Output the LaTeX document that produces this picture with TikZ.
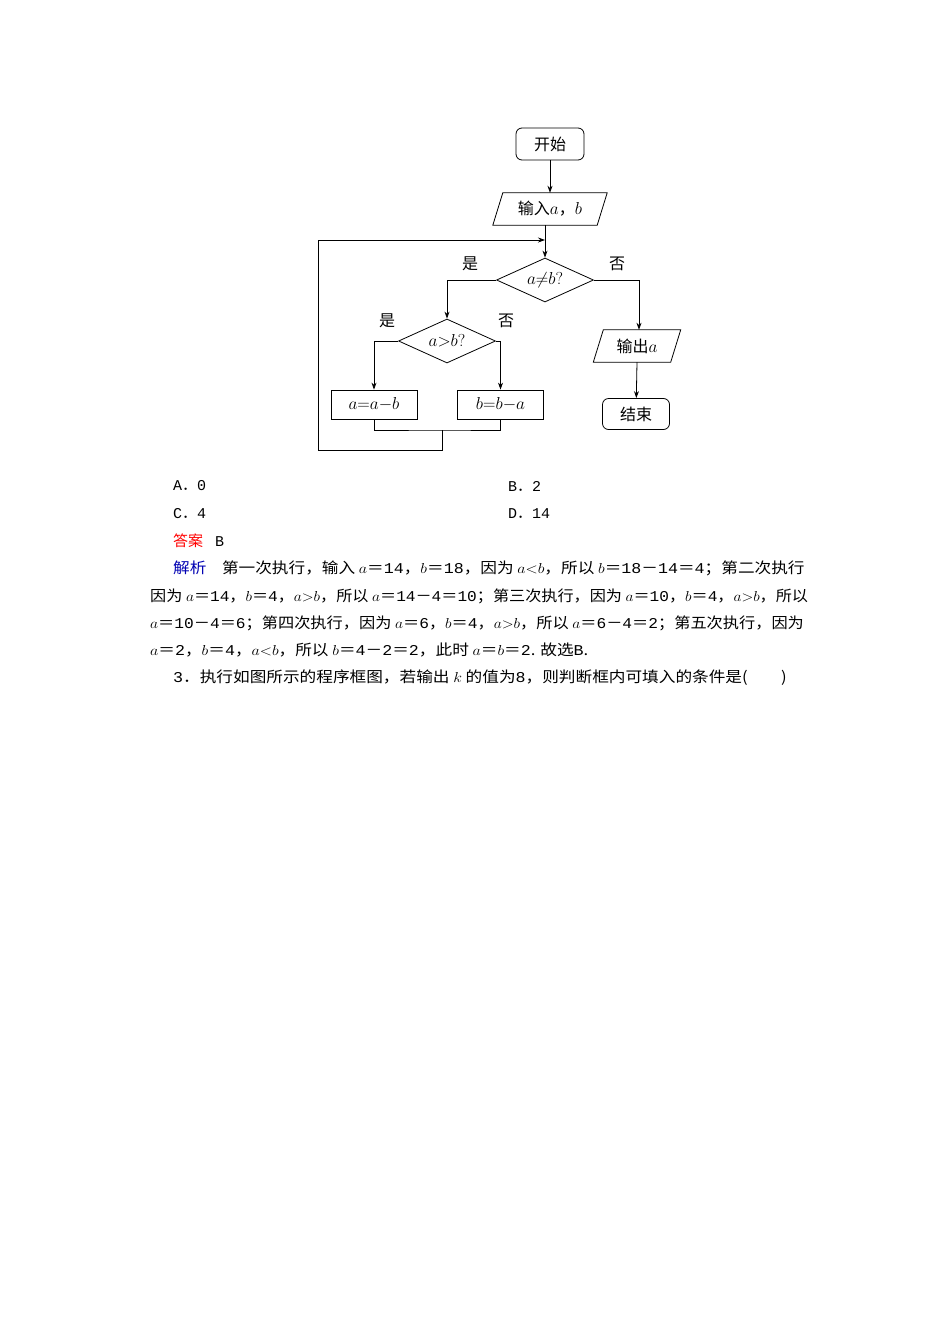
\documentclass[tikz,border=0pt]{standalone}
\usepackage{fontspec}
\newfontfamily\cjk{Noto Sans CJK SC}
\newfontfamily\mono{Liberation Mono}
\setmainfont{Liberation Serif}
\usetikzlibrary{shapes.geometric,arrows.meta}
\newcommand{\nm}[1]{{\mono #1}}
\tikzset{
 every node/.style={font=\cjk\fontsize{16}{18}\selectfont, inner sep=0pt},
 flow/.style={draw, line width=0.8pt},
 term/.style={flow, rounded corners=6pt, minimum width=68pt, minimum height=32pt},
 iobox/.style={minimum height=32pt},
 proc/.style={flow, minimum width=86pt, minimum height=29pt},
 dec/.style={flow, diamond, aspect=2.2, minimum width=97pt, minimum height=44pt},
 ar/.style={line width=0.8pt, -{Stealth[length=7pt,width=5pt]}},
 ln/.style={line width=0.8pt},
 lbl/.style={font=\cjk\fontsize{16}{18}\selectfont},
 txt/.style={anchor=west, font=\cjk\fontsize{15}{17}\selectfont}
}
\begin{document}
\begin{tikzpicture}[x=1pt,y=-1pt]
\useasboundingbox (0,0) rectangle (950,1344);
\node[term] (start) at (550,144) {开始};
\node[iobox, minimum width=104pt] (in) at (550,209) {输入$a$，$b$};
\draw[ln] ([xshift=-5pt]in.south west) -- ([xshift=5pt]in.north west) -- ([xshift=5pt]in.north east) -- ([xshift=-5pt]in.south east) -- cycle;
\node[dec] (d1) at (545,280) {$a{\neq}b?$};
\node[dec] (d2) at (447,341) {$a{>}b?$};
\node[proc] (p1) at (374,404.5) {$a{=}a{-}b$};
\node[proc] (p2) at (500.5,404.5) {$b{=}b{-}a$};
\node[iobox, minimum width=77pt] (out) at (637,346) {输出$a$};
\draw[ln] ([xshift=-5pt]out.south west) -- ([xshift=5pt]out.north west) -- ([xshift=5pt]out.north east) -- ([xshift=-5pt]out.south east) -- cycle;
\node[term, minimum width=67pt, minimum height=31pt] (end) at (636,414) {结束};
\node[lbl] (y1) at (470,264) {是};
\node[lbl] (n1) at (617,264) {否};
\node[lbl] (y2) at (387,321) {是};
\node[lbl] (n2) at (506,321) {否};
\coordinate (m) at (545,240);
\draw[ar] (start) -- (start |- in.north);
\draw[ln] (in.south -| m) -- (m);
\draw[ar] (m) -- (d1);
\draw[ar] (d1.west) -| (d2.north);
\draw[ar] (d1.east) -| (out.north -| 639,0);
\draw[ar] (out.south -| 637,0) -- (end);
\draw[ar] (d2.west) -| (p1.north);
\draw[ar] (d2.east) -| (p2.north);
\coordinate (j) at (442,430);
\draw[ln] (p1.south) |- (j) -| (p2.south);
\draw[ar] (j) -- (442,450) -- (318,450) -- (318,240) -- (m);
\node[txt] (a) at (173,486) {\nm{A}．\nm{0}};
\node[txt] (b) at (508,486) {\nm{B}．\nm{2}};
\node[txt] (c) at (173,514) {\nm{C}．\nm{4}};
\node[txt] (dd) at (508,514) {\nm{D}．\nm{14}};
\node[txt] (ans) at (173,541) {\textcolor{red}{答案}\hspace{12pt}\nm{B}};
\node[txt] (l1) at (173,568) {\scalebox{1.11}[1]{\textcolor{blue!70!black}{解析}\hspace{14pt}第一次执行，输入 $a$＝\nm{14}，$b$＝\nm{18}，因为 $a{<}b$，所以 $b$＝\nm{18}－\nm{14}＝\nm{4}；第二次执行}};
\node[txt] (l2) at (150,596) {\scalebox{1.075}[1]{因为 $a$＝\nm{14}，$b$＝\nm{4}，$a{>}b$，所以 $a$＝\nm{14}－\nm{4}＝\nm{10}；第三次执行，因为 $a$＝\nm{10}，$b$＝\nm{4}，$a{>}b$，所以}};
\node[txt] (l3) at (150,623) {\scalebox{1.08}[1]{$a$＝\nm{10}－\nm{4}＝\nm{6}；第四次执行，因为 $a$＝\nm{6}，$b$＝\nm{4}，$a{>}b$，所以 $a$＝\nm{6}－\nm{4}＝\nm{2}；第五次执行，因为}};
\node[txt] (l4) at (150,650) {\scalebox{1.11}[1]{$a$＝\nm{2}，$b$＝\nm{4}，$a{<}b$，所以 $b$＝\nm{4}－\nm{2}＝\nm{2}，此时 $a$＝$b$＝\nm{2}. 故选\nm{B}.}};
\node[txt] (l5) at (173,678) {\scalebox{1.11}[1]{\nm{3}．执行如图所示的程序框图，若输出 $k$ 的值为\nm{8}，则判断框内可填入的条件是(\hspace{30pt})}};
\end{tikzpicture}
\end{document}
